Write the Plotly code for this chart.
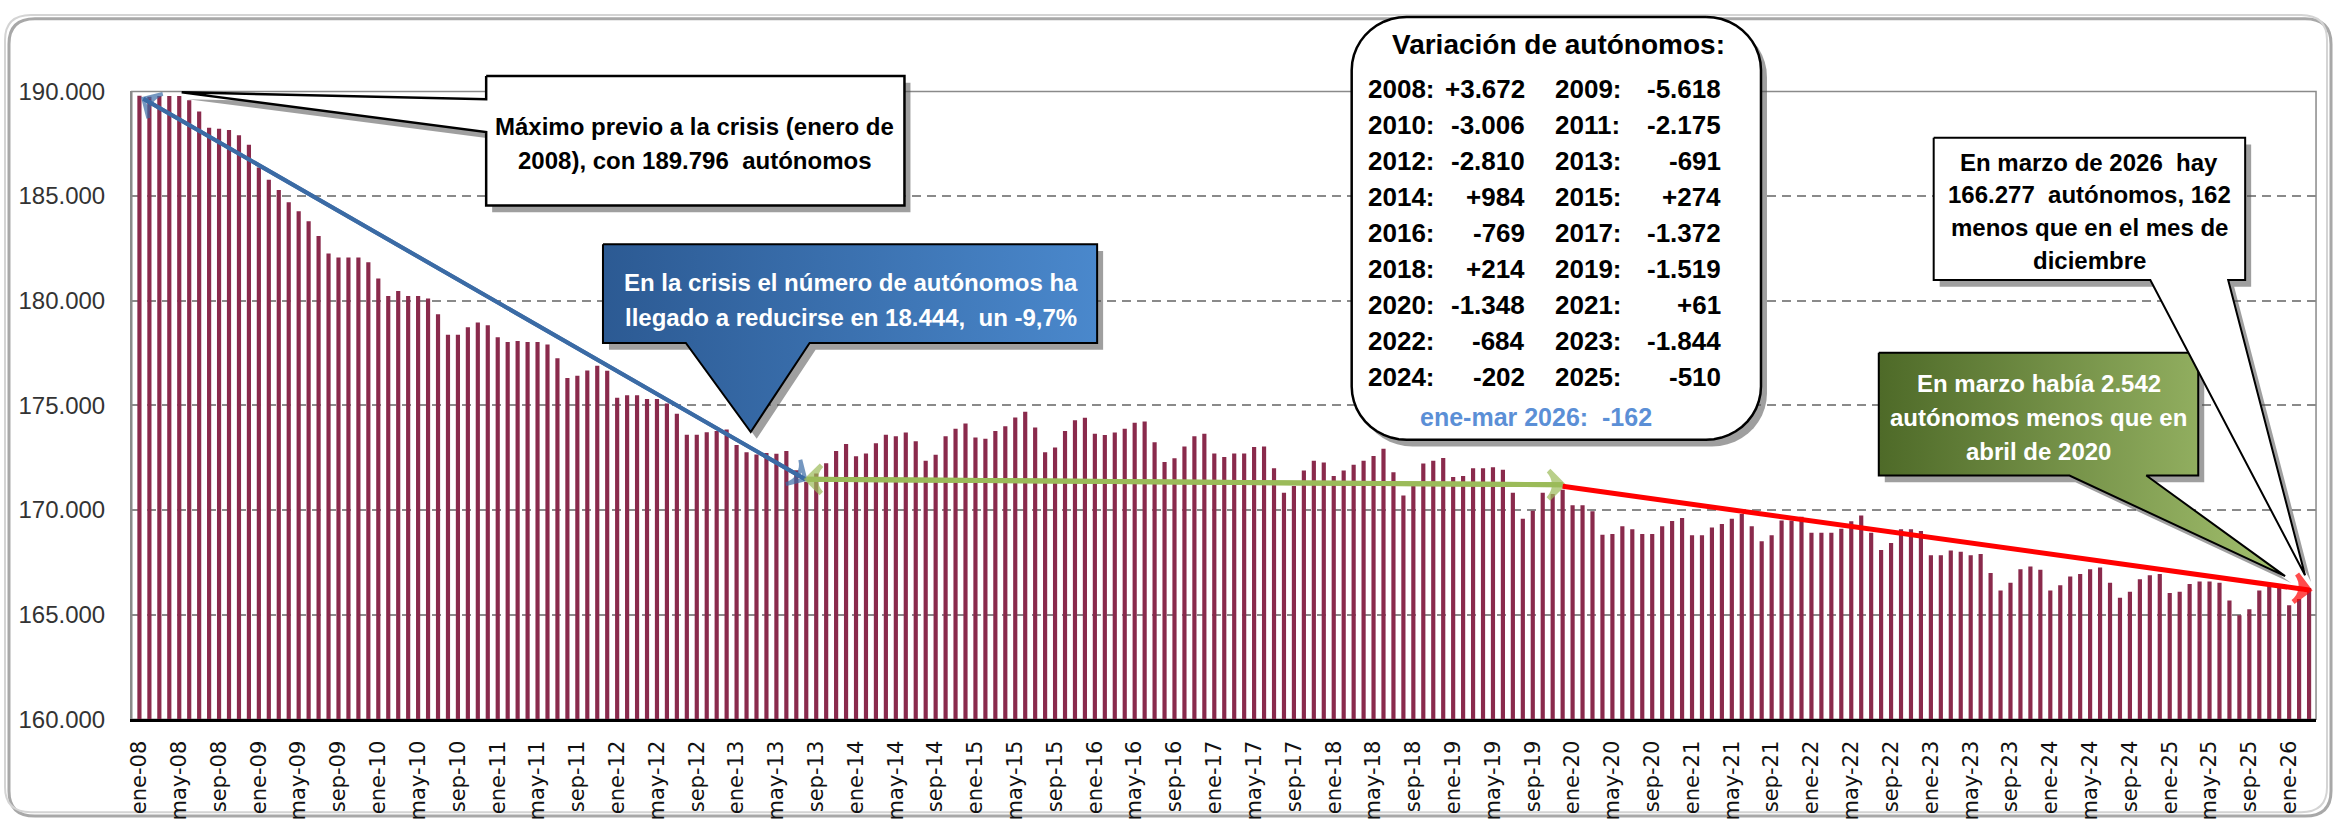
import numpy as np
import plotly.graph_objects as go

# Autónomos, serie mensual (ene-2008 .. mar-2026)
y2008 = [189796, 189740, 189780, 189780, 189780, 189580, 189040, 188260, 188220, 188160, 187910, 187454]
y2009 = [186360, 185780, 185290, 184700, 184280, 183800, 183090, 182250, 182060, 182060, 182060, 181836]
y2010 = [181060, 180230, 180470, 180230, 180230, 180110, 179350, 178370, 178370, 178730, 178960, 178830]
y2011 = [178260, 178030, 178080, 178030, 178030, 177910, 177250, 176310, 176420, 176660, 176890, 176655]
y2012 = [175360, 175480, 175480, 175310, 175310, 175090, 174600, 173600, 173600, 173710, 173770, 173845]
y2013 = [173110, 172760, 172650, 172730, 172690, 172820, 171900, 171352, 171750, 172230, 172820, 173154]
y2014 = [172570, 172700, 173190, 173600, 173530, 173700, 173280, 172350, 172640, 173530, 173880, 174138]
y2015 = [173470, 173400, 173770, 174000, 174420, 174690, 173940, 172760, 172990, 173770, 174290, 174412]
y2016 = [173650, 173590, 173700, 173880, 174170, 174230, 173240, 172300, 172470, 173040, 173530, 173643]
y2017 = [172700, 172530, 172700, 172700, 173010, 173040, 172000, 170820, 171150, 171890, 172350, 172271]
y2018 = [171630, 171890, 172160, 172350, 172580, 172930, 171810, 170690, 171340, 172220, 172350, 172485]
y2019 = [171580, 171630, 172000, 172000, 172040, 171930, 170820, 169580, 169970, 170820, 170770, 170966]
y2020 = [170230, 170230, 169940, 168819, 168850, 169220, 169080, 168850, 168850, 169220, 169470, 169618]
y2021 = [168800, 168800, 169160, 169330, 169580, 169810, 169220, 168510, 168800, 169500, 169500, 169679]
y2022 = [168910, 168910, 168910, 169110, 169460, 169740, 168910, 168090, 168420, 169080, 169080, 168995]
y2023 = [167840, 167840, 168070, 168010, 167840, 167900, 166990, 166160, 166520, 167170, 167300, 167151]
y2024 = [166160, 166410, 166830, 166940, 167170, 167250, 166520, 165810, 166100, 166690, 166880, 166949]
y2025 = [166040, 166100, 166460, 166580, 166580, 166520, 165680, 164970, 165260, 166160, 166460, 166439]
y2026 = [165450, 165750, 166277]

# Variación anual de autónomos (cuadro)
var_anios = [2008, 2009, 2010, 2011, 2012, 2013, 2014, 2015, 2016,
             2017, 2018, 2019, 2020, 2021, 2022, 2023, 2024, 2025]
var_valores = [3672, -5618, -3006, -2175, -2810, -691, 984, 274, -769,
               -1372, 214, -1519, -1348, 61, -684, -1844, -202, -510]
var_2026 = -162

meses = ["ene", "feb", "mar", "abr", "may", "jun", "jul", "ago", "sep", "oct", "nov", "dic"]

autonomos = (y2008 + y2009 + y2010 + y2011 + y2012 + y2013 + y2014 + y2015 + y2016
             + y2017 + y2018 + y2019 + y2020 + y2021 + y2022 + y2023 + y2024 + y2025 + y2026)
n = len(autonomos)
x = list(range(n))
etiquetas = [f"{meses[i % 12]}-{8 + i // 12:02d}" for i in range(n)]
tick_idx = list(range(0, n, 4))

W, H = 2336, 832
PX0, PX1, PY0, PY1 = 128, 2316, 80, 729   # area de trazado en pixeles

GRANATE = "#8a2a4c"
FUENTE = "Liberation Sans Narrow, Liberation Sans, Arial"


def miles(v, signo=False):
    s = f"{v:+,}" if signo else f"{v:,}"
    return s.replace(",", ".")


# cifras de los textos
i_min = int(np.argmin(autonomos[:72]))
v_min = autonomos[i_min]
caida = autonomos[0] - v_min
pct = f"{-caida / autonomos[0] * 100:.1f}".replace(".", ",")
i_dic19 = etiquetas.index("dic-19")
i_abr20 = etiquetas.index("abr-20")
i_dic25 = etiquetas.index("dic-25")

fig = go.Figure()

fig.add_trace(go.Bar(x=x, y=autonomos, width=0.42, marker=dict(color=GRANATE, line=dict(width=0)),
                     showlegend=False, hoverinfo="skip"))


def flecha(x0, y0, x1, y1, color, width, doble=False):
    tramos = [((x0, y0), (x1, y1))]
    if doble:
        tramos.append(((x1, y1), (x0, y0)))
    for a, b in tramos:
        fig.add_trace(go.Scatter(
            x=[a[0], b[0]], y=[a[1], b[1]], mode="lines+markers", cliponaxis=False,
            line=dict(color=color, width=width),
            marker=dict(symbol="arrow-wide-open", size=[0, 20], angleref="previous",
                        color=color, line=dict(color=color, width=width)),
            showlegend=False, hoverinfo="skip"))


flecha(0.4, autonomos[0] - 150, i_min - 0.1, v_min + 120, "#3b6ba5", 4, doble=True)
flecha(i_min + 0.1, v_min + 120, i_dic19, v_min - 150, "#9bbb59", 5, doble=True)
flecha(i_dic19, v_min - 220, n - 1, autonomos[-1] - 100, "#ff0000", 5)


# --- llamadas (coordenadas en pixeles sobre x2/y2) ---
def poligono(pts, fill, lw=2.5, grad=None, sombra=(6, 7)):
    xs = [p[0] for p in pts] + [pts[0][0]]
    ys = [p[1] for p in pts] + [pts[0][1]]
    if sombra:
        fig.add_trace(go.Scatter(x=[v + sombra[0] for v in xs], y=[v + sombra[1] for v in ys],
                                 xaxis="x2", yaxis="y2", mode="lines", fill="toself",
                                 fillcolor="rgba(80,80,80,0.55)", line=dict(width=0),
                                 showlegend=False, hoverinfo="skip"))
    tr = go.Scatter(x=xs, y=ys, xaxis="x2", yaxis="y2", mode="lines", fill="toself",
                    fillcolor=fill, line=dict(color="black", width=lw),
                    showlegend=False, hoverinfo="skip")
    if grad:
        tr.fillgradient = dict(type="horizontal", colorscale=[[0, grad[0]], [1, grad[1]]])
    fig.add_trace(tr)


def redondeado(x0, y0, x1, y1, r):
    pts = []
    for cx, cy, a0 in [(x1 - r, y0 + r, -90), (x1 - r, y1 - r, 0), (x0 + r, y1 - r, 90), (x0 + r, y0 + r, 180)]:
        for a in np.linspace(a0, a0 + 90, 12):
            pts.append((cx + r * np.cos(np.radians(a)), cy + r * np.sin(np.radians(a))))
    return pts


poligono([(483, 64), (902, 64), (902, 198), (483, 198), (483, 122), (178, 81), (483, 88)], "white")
poligono([(600, 238), (1095, 238), (1095, 340), (807, 340), (748, 432), (683, 340), (600, 340)],
         "#3a6aa8", lw=2, grad=("#2c5a93", "#4a88cc"))
poligono(redondeado(1350, 3, 1760, 440, 55), "white")
poligono([(1878, 350), (2198, 350), (2198, 477), (2146, 477), (2285, 581), (2069, 477), (1878, 477)],
         "#6f8c3e", lw=2, grad=("#4e6a28", "#a3c06e"))
poligono([(1933, 128), (2245, 128), (2245, 275), (2228, 275), (2305, 580), (2150, 275), (1933, 275)],
         "white", lw=2)

anots = []


def texto(tx, px, py, size=24, color="black", xanchor="center"):
    anots.append(dict(text=f"<b>{tx}</b>", x=px, y=py, xref="x2", yref="y2", showarrow=False,
                      xanchor=xanchor, yanchor="middle", align="center",
                      font=dict(family=FUENTE, size=size, color=color)))


def lineas(textos, px, y0, paso, **kw):
    for k, tx in enumerate(textos):
        texto(tx, px, y0 + paso * k, **kw)


lineas(["Máximo previo a la crisis (enero de",
        f"2008), con {miles(autonomos[0])}  autónomos"], 692, 116, 35)
lineas(["En la crisis el número de autónomos ha",
        f"llegado a reducirse en {miles(caida)},  un {pct}%"], 848, 278, 36, color="white")
texto("Variación de autónomos:", 1557, 32, size=28)
for k in range(0, len(var_anios), 2):
    fy = 78 + 37.2 * (k // 2)
    texto(f"{var_anios[k]}:", 1364, fy, size=26, xanchor="left")
    texto(miles(var_valores[k], True), 1526, fy, size=26, xanchor="right")
    texto(f"{var_anios[k + 1]}:", 1552, fy, size=26, xanchor="left")
    texto(miles(var_valores[k + 1], True), 1722, fy, size=26, xanchor="right")
texto(f"ene-mar 2026:  {miles(var_2026)}", 1535, 416, size=25, color="#5b8fd6")
lineas([f"En marzo había {miles(autonomos[i_abr20] - autonomos[-1])}",
        "autónomos menos que en", "abril de 2020"], 2038, 382, 35, color="white")
lineas(["En marzo de 2026  hay",
        f"{miles(autonomos[-1])}  autónomos, {miles(autonomos[i_dic25] - autonomos[-1])}",
        "menos que en el mes de", "diciembre"], 2089, 153, 34)


def ruta_redondeada(x0, y0, x1, y1, r):
    # pixeles -> coordenadas paper
    def p(px, py):
        return f"{px / W:.5f},{1 - py / H:.5f}"
    return (f"M{p(x0 + r, y0)} L{p(x1 - r, y0)} Q{p(x1, y0)} {p(x1, y0 + r)} L{p(x1, y1 - r)} "
            f"Q{p(x1, y1)} {p(x1 - r, y1)} L{p(x0 + r, y1)} Q{p(x0, y1)} {p(x0, y1 - r)} "
            f"L{p(x0, y0 + r)} Q{p(x0, y0)} {p(x0 + r, y0)} Z")


shapes = [
    dict(type="path", path=ruta_redondeada(5, 5, 2331, 829, 26), xref="paper", yref="paper",
         line=dict(color="#a8a8a8", width=3), layer="below"),
    dict(type="path", path=ruta_redondeada(1, 1, 2327, 825, 26), xref="paper", yref="paper",
         line=dict(color="#d4d4d4", width=2), layer="below"),
    dict(type="rect", xref="paper", yref="paper", x0=PX0 / W, x1=PX1 / W,
         y0=1 - PY1 / H, y1=1 - PY0 / H, line=dict(color="#8a8a8a", width=1.5), layer="below"),
]

fig.update_layout(
    width=W, height=H, margin=dict(l=0, r=0, t=0, b=0),
    paper_bgcolor="white", plot_bgcolor="rgba(0,0,0,0)",
    separators=",.", font=dict(family="Liberation Sans", color="#222"),
    shapes=shapes, annotations=anots,
    xaxis=dict(domain=[PX0 / W, PX1 / W], range=[-0.77, n - 1 + 0.7], anchor="y",
               tickvals=tick_idx, ticktext=[etiquetas[i] for i in tick_idx], tickangle=-90,
               tickfont=dict(family="DejaVu Sans", size=21, color="#111"),
               showgrid=False, zeroline=False, showline=True, linecolor="black", linewidth=3,
               ticks="", ticklabelstandoff=10, fixedrange=True),
    yaxis=dict(domain=[1 - PY1 / H, 1 - PY0 / H], range=[160000, 190000], anchor="x",
               tickvals=list(range(160000, 190001, 5000)), tickformat=",d",
               tickfont=dict(family="Liberation Sans", size=24, color="#333"),
               showgrid=True, gridcolor="#8a8a8a", gridwidth=2, griddash="9px,6px",
               showline=True, linecolor="#8a8a8a", linewidth=1.5, zeroline=False,
               ticks="", ticklabelstandoff=20, fixedrange=True),
    xaxis2=dict(domain=[0, 1], range=[0, W], visible=False, anchor="y2", fixedrange=True),
    yaxis2=dict(domain=[0, 1], range=[H, 0], visible=False, anchor="x2", fixedrange=True),
)

fig.write_html("out.html", config={"displayModeBar": False},
               post_script="document.body.style.margin='0';")
